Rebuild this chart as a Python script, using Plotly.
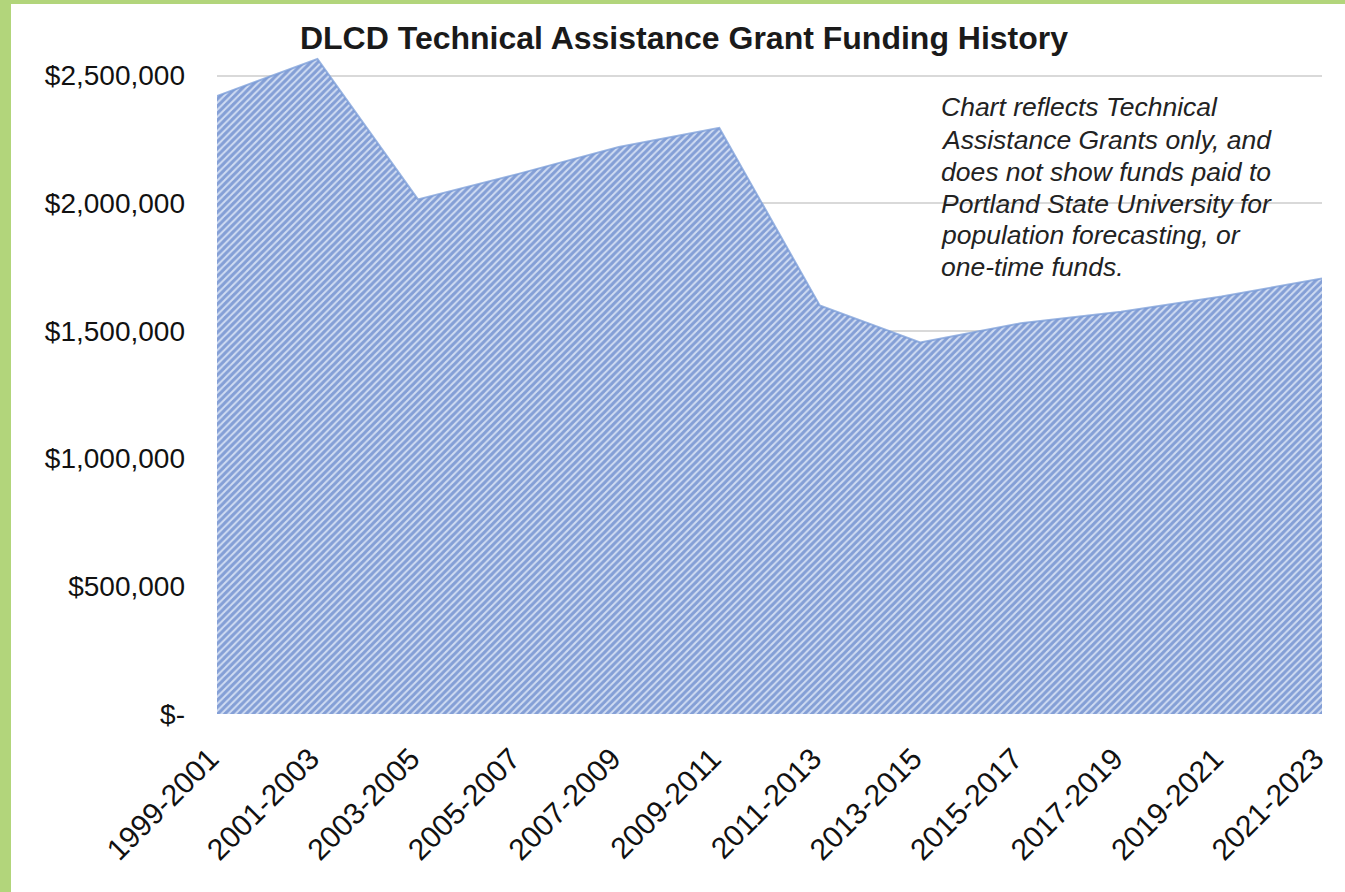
import plotly.graph_objects as go

# Biennium labels and grant totals (USD)
bienniums = ["1999-2001", "2001-2003", "2003-2005", "2005-2007", "2007-2009", "2009-2011",
             "2011-2013", "2013-2015", "2015-2017", "2017-2019", "2019-2021", "2021-2023"]
funding = [2420000, 2565000, 2015000, 2115000, 2220000, 2295000,
           1600000, 1455000, 1530000, 1575000, 1635000, 1705000]

y_tick_values = [0, 500000, 1000000, 1500000, 2000000, 2500000]
y_tick_labels = ["$-", "$500,000", "$1,000,000", "$1,500,000", "$2,000,000", "$2,500,000"]

note_lines = ["Chart reflects Technical",
              "Assistance Grants only, and",
              "does not show funds paid to",
              "Portland State University for",
              "population forecasting, or",
              "one-time funds."]

W, H = 1345, 892
ML, MR, MT, MB = 217, 23, 50, 178
PW, PH = W - ML - MR, H - MT - MB
FONT = "Liberation Sans, Arial, sans-serif"


def px_x(px):
    return (px - ML) / PW


def px_y(py):
    return (H - MB - py) / PH


fig = go.Figure()
fig.add_trace(go.Scatter(
    x=list(range(len(bienniums))),
    y=funding,
    mode="lines",
    fill="tozeroy",
    line=dict(color="rgba(120,155,215,0.75)", width=2),
    fillcolor="#d0dcf2",
    fillpattern=dict(shape="/", fgcolor="#3762b9", bgcolor="#d0dcf2",
                     size=5, solidity=0.6),
    hoverinfo="skip",
    showlegend=False,
))

shapes = [
    # white page inside the green frame
    dict(type="rect", xref="paper", yref="paper", layer="below",
         x0=px_x(11), x1=px_x(W + 5), y0=px_y(H + 5), y1=px_y(4),
         fillcolor="white", line=dict(width=0)),
    # note box background (covers gridlines only)
    dict(type="rect", xref="paper", yref="paper", layer="between",
         x0=px_x(937), x1=px_x(1274), y0=px_y(283), y1=px_y(88),
         fillcolor="white", line=dict(width=0)),
]

annotations = []
line_centers = [107, 140, 171.5, 203.5, 235, 266.5]
for text, cy in zip(note_lines, line_centers):
    annotations.append(dict(
        text=f"<i>{text}</i>", xref="paper", yref="paper",
        x=px_x(939), y=px_y(cy), xanchor="left", yanchor="middle",
        showarrow=False, align="left",
        font=dict(family=FONT, size=26.5, color="#222222"),
    ))

fig.update_layout(
    width=W, height=H,
    margin=dict(l=ML, r=MR, t=MT, b=MB),
    paper_bgcolor="#b2d57b",
    plot_bgcolor="rgba(0,0,0,0)",
    title=dict(text="<b>DLCD Technical Assistance Grant Funding History</b>",
               x=684 / W, xanchor="center", xref="container",
               y=1 - 38 / H, yanchor="middle", yref="container",
               font=dict(family=FONT, size=32, color="#1a1a1a")),
    xaxis=dict(
        range=[0, len(bienniums) - 1],
        tickmode="array", tickvals=list(range(len(bienniums))), ticktext=bienniums,
        tickangle=-45, showgrid=False, zeroline=False, showline=False,
        ticks="", ticklabelstandoff=20, ticklabelshift=-7,
        tickfont=dict(family=FONT, size=30, color="#111111"),
    ),
    yaxis=dict(
        range=[0, 2600000],
        tickmode="array", tickvals=y_tick_values, ticktext=y_tick_labels,
        showgrid=True, gridcolor="#d9d9d9", gridwidth=1.5,
        zeroline=False, showline=False, ticks="", ticklabelstandoff=31,
        tickfont=dict(family=FONT, size=28, color="#111111"),
    ),
    shapes=shapes,
    annotations=annotations,
)

fig.write_html("out.html")
